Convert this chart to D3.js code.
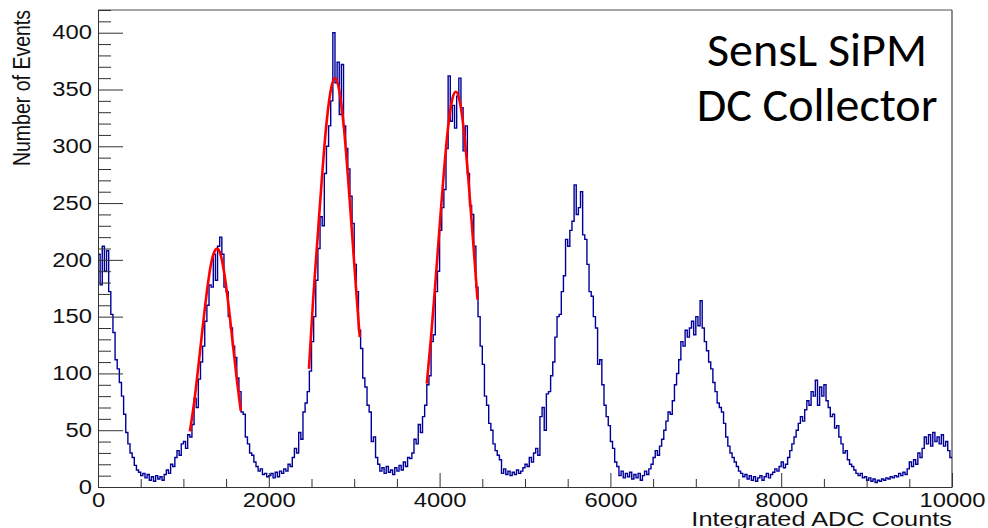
<!DOCTYPE html>
<html>
<head>
<meta charset="utf-8">
<script src="https://cdn.jsdelivr.net/npm/d3@7"></script>
<style>
  body { margin: 0; background: #fff; }
</style>
</head>
<body>
<div id="chart"></div>
<script>
// histogram contents, 400 bins of equal width between xLow and xHigh
const counts = [
  205,178,212,190,208,172,152,136,112,104,92,80,64,48,38,30,26,19,15,13,10,12,8,11,6,9,5,10,7,9,6,11,15,12,20,18,26,32,28,38,
  40,34,46,44,55,78,70,95,110,124,146,160,178,176,205,182,212,220,205,176,172,150,140,124,114,96,84,66,64,44,38,30,28,22,18,14,16,11,12,9,
  10,12,8,13,9,14,12,16,14,20,18,26,34,30,48,42,66,74,84,102,128,150,182,210,238,230,276,300,318,340,400,356,374,328,372,318,298,280,256,232,
  196,172,138,122,96,88,72,66,40,44,26,20,14,17,12,18,13,15,11,17,14,19,15,22,18,26,25,30,42,38,55,48,62,72,90,98,128,134,172,190,
  226,246,262,298,362,322,336,316,344,360,334,296,318,276,248,240,212,176,150,124,108,80,72,56,50,38,32,28,24,12,16,11,14,10,13,11,15,12,14,17,
  20,18,26,22,30,34,28,62,70,50,82,84,98,110,132,150,152,172,186,218,212,226,234,266,240,246,260,222,218,196,172,168,150,140,108,112,90,72,62,54,
  40,34,22,18,10,14,8,12,9,13,7,11,8,12,6,10,14,11,16,20,26,32,28,36,42,50,58,66,64,76,90,100,112,128,124,138,132,140,146,134,
  150,142,164,140,128,120,110,104,92,84,74,70,66,56,44,36,30,26,22,18,14,12,9,11,7,10,6,9,5,8,10,6,9,12,8,11,13,16,14,18,
  22,17,20,26,32,38,44,50,56,62,58,68,76,72,84,80,94,72,88,80,90,76,70,62,64,52,54,44,38,30,32,24,20,18,15,12,10,12,8,9,
  6,8,5,7,4,6,5,7,6,8,7,9,8,10,9,12,10,13,11,16,22,18,24,20,30,26,34,44,38,46,36,48,40,44,38,46,36,40,32,26
];
const xLow = 0, xHigh = 10000;

// red fit curves [adc, events]
const fit1 = [[1076,49],[1125,74],[1175,106],[1225,140],[1275,172],[1325,197],[1375,209],[1392,210],[1425,207],[1475,190],[1525,162],[1575,129],[1625,95],[1672,67]];
const fit2 = [[2470,104],[2520,166],[2570,218],[2620,270],[2670,316],[2720,347],[2775,360],[2830,347],[2880,316],[2930,270],[2980,218],[3030,166],[3065,132]];
const fit3 = [[3850,91],[3900,132],[3950,179],[4000,229],[4050,277],[4100,317],[4150,342],[4190,348],[4240,338],[4290,310],[4340,268],[4390,219],[4444,165]];

const xTicks = [0, 2000, 4000, 6000, 8000, 10000];
const yTicks = [0, 50, 100, 150, 200, 250, 300, 350, 400];
const yMax = 420;
const titleLines = ["SensL SiPM", "DC Collector"];
const xTitle = "Integrated ADC Counts";
const yTitle = "Number of Events";

const width = 988, height = 528;
const margin = { top: 10, right: 36, bottom: 41, left: 98 };
const stretch = 1.22; // the picture is stretched sideways

const svg = d3.select('#chart')
  .append('svg')
  .attr('width', width)
  .attr('height', height)
  .style('font-family', '"Liberation Sans", Arial, sans-serif');

const x = d3.scaleLinear()
  .domain([xLow, xHigh])
  .range([margin.left, width - margin.right]);

const y = d3.scaleLinear()
  .domain([0, yMax])
  .range([height - margin.bottom, margin.top]);

// frame
svg.append('line')
  .attr('x1', x(xLow)).attr('x2', x(xHigh))
  .attr('y1', y(yMax)).attr('y2', y(yMax))
  .attr('stroke', '#8a8a8a').attr('stroke-width', 1.5);
svg.append('line')
  .attr('x1', x(xHigh)).attr('x2', x(xHigh))
  .attr('y1', y(yMax)).attr('y2', y(0))
  .attr('stroke', '#444').attr('stroke-width', 1.2);

// histogram as steps
const binW = (xHigh - xLow) / counts.length;
const steps = counts.map((c, i) => [xLow + i * binW, c]);
steps.push([xHigh, counts[counts.length - 1]]);

const stepLine = d3.line()
  .x(d => x(d[0]))
  .y(d => y(d[1]))
  .curve(d3.curveStepAfter);

svg.append('path')
  .datum(steps)
  .attr('d', stepLine)
  .attr('fill', 'none')
  .attr('stroke', '#000099')
  .attr('stroke-width', 1.4);

const fitLine = d3.line()
  .x(d => x(d[0]))
  .y(d => y(d[1]))
  .curve(d3.curveMonotoneX);

svg.append('g')
  .selectAll('path')
  .data([fit1, fit2, fit3])
  .join('path')
  .attr('d', fitLine)
  .attr('fill', 'none')
  .attr('stroke', '#ff0000')
  .attr('stroke-width', 2.6);

// axes
function yAxis(g) {
  g.attr('transform', `translate(${margin.left},0)`)
    .call(d3.axisLeft(y).tickValues(yTicks).tickSize(-25).tickSizeOuter(0).tickPadding(5).tickFormat(d3.format('d')))
    .call(g => g.selectAll('text')
      .attr('font-size', '19.5px')
      .attr('transform', `scale(${stretch},1)`));
}

function yMinor(g) {
  g.attr('transform', `translate(${margin.left},0)`)
    .call(d3.axisLeft(y).tickValues(d3.range(10, yMax + 1, 10).filter(v => v % 50 !== 0)).tickSize(-13).tickSizeOuter(0).tickFormat(''))
    .call(g => g.select('.domain').remove());
}

function xAxis(g) {
  g.attr('transform', `translate(0,${height - margin.bottom})`)
    .call(d3.axisBottom(x).tickValues(xTicks).tickSize(-14).tickSizeOuter(0).tickPadding(6).tickFormat(d3.format('d')))
    .call(g => g.selectAll('text')
      .attr('font-size', '19.5px')
      .attr('transform', `scale(${stretch},1)`));
}

function xMinor(g) {
  g.attr('transform', `translate(0,${height - margin.bottom})`)
    .call(d3.axisBottom(x).tickValues(d3.range(500, xHigh, 500).filter(v => v % 2000 !== 0)).tickSize(-8).tickSizeOuter(0).tickFormat(''))
    .call(g => g.select('.domain').remove());
}

svg.append('g').call(yMinor);
svg.append('g').call(xMinor);
svg.append('g').call(yAxis);
svg.append('g').call(xAxis);

svg.selectAll('.domain, .tick line').attr('stroke', '#333');
svg.selectAll('.tick text').attr('fill', '#111');

// axis titles
svg.append('text')
  .attr('transform', `translate(30,${margin.top}) scale(${stretch},1) rotate(-90)`)
  .attr('text-anchor', 'end')
  .attr('font-size', '19.5px')
  .attr('fill', '#111')
  .text(yTitle);

svg.append('text')
  .attr('transform', `translate(${x(xHigh)},526) scale(1.3,1)`)
  .attr('text-anchor', 'end')
  .attr('font-size', '19.5px')
  .attr('fill', '#111')
  .text(xTitle);

// title box text
svg.append('g')
  .selectAll('text')
  .data(titleLines)
  .join('text')
  .attr('x', 817)
  .attr('y', (d, i) => 66 + i * 55)
  .attr('text-anchor', 'middle')
  .attr('font-family', 'Carlito, Lato, "Open Sans", sans-serif')
  .attr('font-size', '48px')
  .attr('fill', '#000')
  .text(d => d);
</script>
</body>
</html>
